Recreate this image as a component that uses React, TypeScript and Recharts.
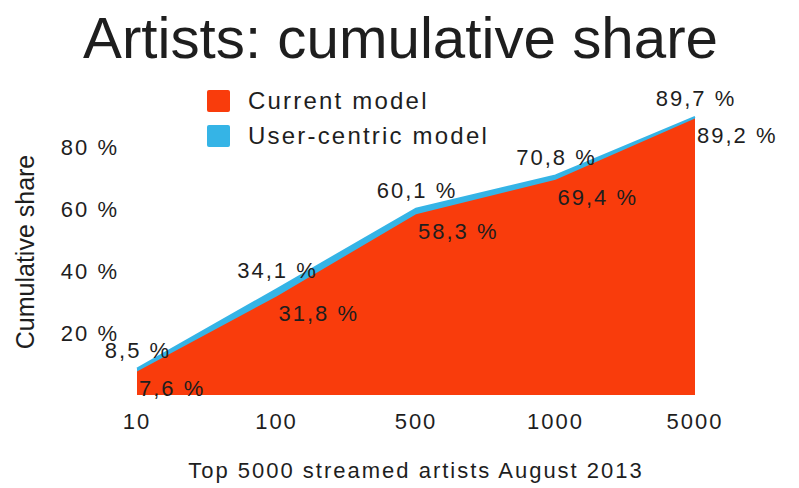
import React from "react";
import { Area, AreaChart, LabelList, XAxis, YAxis } from "recharts";

const categories = ["10", "100", "500", "1000", "5000"];
const currentModel = [7.6, 31.8, 58.3, 69.4, 89.2];
const userCentric = [8.5, 34.1, 60.1, 70.8, 89.7];
const yTicks = [20, 40, 60, 80];

const RED = "#f93c0c";
const BLUE = "#35b4e6";
const INK = "#1e1e1e";
const FONT = '"Liberation Sans", Arial, sans-serif';

const data = categories.map((artists, i) => ({
  artists,
  current: currentModel[i],
  user: userCentric[i],
}));

const fmt = (v: number) => `${v.toFixed(1).replace(".", ",")} %`;

const UserLabel = (props: any) => {
  const { x, y, value } = props;
  return (
    <text x={x + 1} y={y - 11} textAnchor="middle" fontSize={22} fill={INK} style={{ letterSpacing: 2 }}>
      {fmt(value)}
    </text>
  );
};

const CurrentLabel = (props: any) => {
  const { x, y, value } = props;
  return (
    <text x={x + 2} y={y + 25} textAnchor="start" fontSize={22} fill={INK} style={{ letterSpacing: 2 }}>
      {fmt(value)}
    </text>
  );
};

const YTitle = (props: any) => {
  const { viewBox } = props;
  const cx = viewBox.x + 25;
  const cy = viewBox.y + viewBox.height / 2 + 12;
  return (
    <text
      x={cx}
      y={cy}
      textAnchor="middle"
      dominantBaseline="central"
      fontSize={25}
      fill={INK}
      transform={`rotate(-90 ${cx} ${cy})`}
    >
      Cumulative share
    </text>
  );
};

const legendItems = [
  { name: "Current model", color: RED },
  { name: "User-centric model", color: BLUE },
];

const LegendBox = () => (
  <div style={{ position: "absolute", top: 83, left: 207 }}>
    {legendItems.map((item) => (
      <div key={item.name} style={{ display: "flex", alignItems: "center", height: 35 }}>
        <span
          style={{
            display: "inline-block",
            width: 23,
            height: 22,
            borderRadius: 2,
            background: item.color,
            marginRight: 18,
          }}
        />
        <span style={{ fontSize: 24, letterSpacing: 2.2, color: INK }}>{item.name}</span>
      </div>
    ))}
  </div>
);

export default function App() {
  return (
    <div
      style={{
        position: "absolute",
        left: 0,
        top: 0,
        width: 799,
        height: 488,
        background: "#fff",
        fontFamily: FONT,
      }}
    >
      <AreaChart
        width={799}
        height={488}
        data={data}
        margin={{ top: 85, right: 104, bottom: 0, left: 0 }}
      >
        <XAxis
          dataKey="artists"
          height={93}
          axisLine={false}
          tickLine={false}
          tickSize={0}
          tickMargin={18}
          tick={{ fontSize: 22, fill: INK, style: { letterSpacing: 2 } }}
          label={{
            value: "Top 5000 streamed artists August 2013",
            position: "insideBottom",
            offset: 10,
            fontSize: 22,
            fill: INK,
            style: { letterSpacing: 2 },
          }}
        />
        <YAxis
          width={137}
          domain={[0, 100]}
          ticks={yTicks}
          axisLine={false}
          tickLine={false}
          tickSize={0}
          tickMargin={18}
          tickFormatter={(v: number) => `${v} %`}
          tick={{ fontSize: 22, fill: INK, style: { letterSpacing: 2 } }}
          label={{ content: YTitle }}
        />
        <Area
          dataKey="user"
          name="User-centric model"
          type="linear"
          stroke={BLUE}
          strokeWidth={2}
          fill={BLUE}
          fillOpacity={1}
          isAnimationActive={false}
        >
          <LabelList dataKey="user" content={UserLabel} />
        </Area>
        <Area
          dataKey="current"
          name="Current model"
          type="linear"
          stroke="none"
          fill={RED}
          fillOpacity={1}
          isAnimationActive={false}
        >
          <LabelList dataKey="current" content={CurrentLabel} />
        </Area>
      </AreaChart>
      <svg width={799} height={80} style={{ position: "absolute", left: 0, top: 0 }}>
        <text x={83} y={58} fontSize={58} fill={INK} textLength={635} lengthAdjust="spacingAndGlyphs">
          Artists: cumulative share
        </text>
      </svg>
      <LegendBox />
    </div>
  );
}
